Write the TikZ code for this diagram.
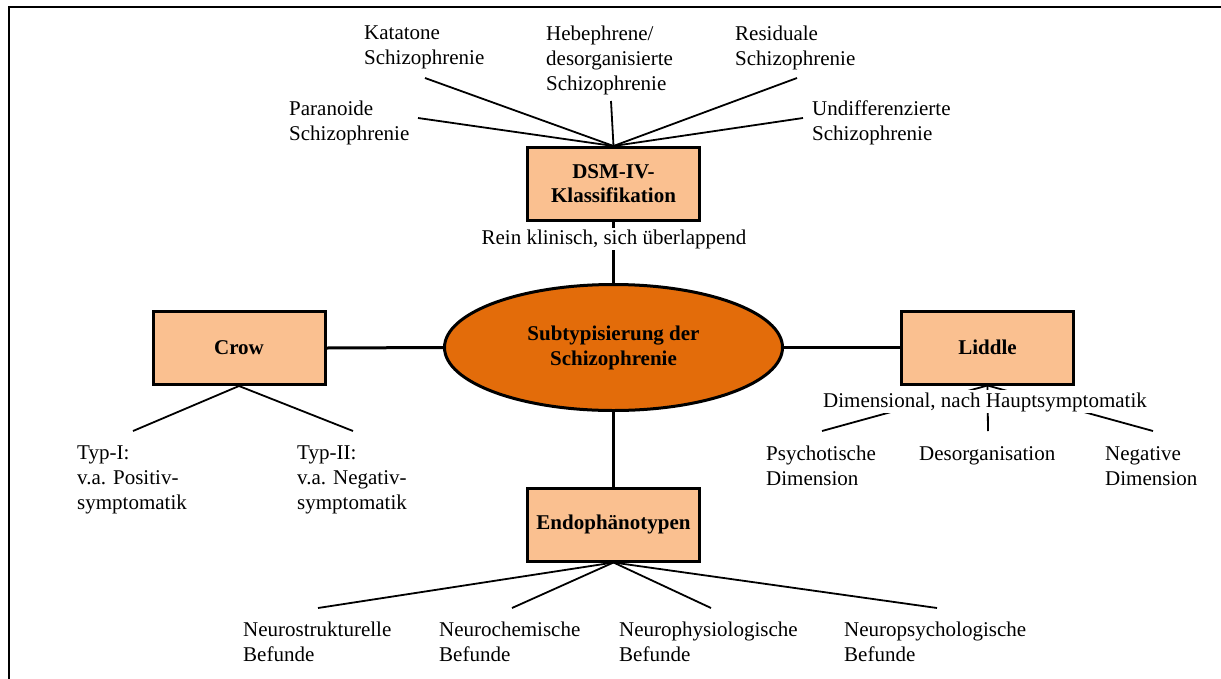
\documentclass[tikz,border=0pt]{standalone}
\usepackage{fontspec}
\setmainfont{Liberation Serif}
\usetikzlibrary{shapes.geometric,backgrounds}

\definecolor{boxfill}{RGB}{250,192,144}
\definecolor{hubfill}{RGB}{227,108,10}

\tikzset{
  catbox/.style={draw, line width=3pt, fill=boxfill, minimum width=172pt,
    minimum height=73pt, inner sep=0pt, align=center, font=\fontsize{21}{24}\selectfont\bfseries},
  hub/.style={ellipse, draw, line width=3pt, fill=hubfill, minimum width=338pt,
    minimum height=126pt, inner sep=0pt, align=center, font=\fontsize{21}{25}\selectfont\bfseries},
  leaf/.style={anchor=north west, inner sep=0pt, align=left, font=\fontsize{21}{25}\selectfont},
  note/.style={anchor=base, fill=white, inner xsep=1.5pt, inner ysep=1.5pt, font=\fontsize{21}{25}\selectfont},
  mainlink/.style={line width=3pt},
  sublink/.style={line width=1.8pt},
}

\begin{document}
\begin{tikzpicture}[x=1pt, y=-1pt]
\useasboundingbox (0,0) rectangle (1221,678);

% frame
\draw[line width=2.4pt] (9,690) -- (9,7) -- (1230,7);

% central hub and the four approaches
\node[hub] (hub) at (613.5,347.5) {Subtypisierung der\\Schizophrenie};
\node[catbox] (dsm) at (613.5,184) {DSM-IV-\\Klassifikation};
\node[catbox] (crow) at (239,348) {Crow};
\node[catbox] (liddle) at (987.5,347.5) {Liddle};
\node[catbox] (endo) at (613.5,524.5) {Endophänotypen};

% DSM-IV subtypes
\node[leaf] (par) at (289,101) {Paranoide\\Schizophrenie};
\node[leaf] (kat) at (364,26) {Katatone\\Schizophrenie};
\node[leaf] (heb) at (546,26) {Hebephrene/\\desorganisierte\\Schizophrenie};
\node[leaf] (res) at (735,26) {Residuale\\Schizophrenie};
\node[leaf] (und) at (812,101) {Undifferenzierte\\Schizophrenie};
\coordinate (par-e) at (418,118);
\coordinate (kat-e) at (425,78);
\coordinate (heb-e) at (611,101);
\coordinate (res-e) at (797,78);
\coordinate (und-e) at (803,118);

% Crow types
\node[leaf] (typ1) at (77,446) {Typ-I:\\v.a. Positiv-\\symptomatik};
\node[leaf] (typ2) at (297,446) {Typ-II:\\v.a. Negativ-\\symptomatik};
\coordinate (typ1-e) at (133,431);
\coordinate (typ2-e) at (353,431);

% Liddle dimensions
\node[leaf] (psy) at (766,446) {Psychotische\\Dimension};
\node[leaf] (des) at (919,446) {Desorganisation};
\node[leaf] (neg) at (1105,446) {Negative\\Dimension};
\coordinate (psy-e) at (822,431);
\coordinate (des-e) at (988,431);
\coordinate (neg-e) at (1153,431);

% endophenotype findings
\node[leaf] (nst) at (243,622) {Neurostrukturelle\\Befunde};
\node[leaf] (nch) at (439,622) {Neurochemische\\Befunde};
\node[leaf] (nph) at (619,622) {Neurophysiologische\\Befunde};
\node[leaf] (nps) at (844,622) {Neuropsychologische\\Befunde};
\coordinate (nst-e) at (318,608);
\coordinate (nch-e) at (512,608);
\coordinate (nph-e) at (711,608);
\coordinate (nps-e) at (937,608);

% annotations sitting on the connectors
\node[note] (dsmnote) at (614,244) {Rein klinisch, sich überlappend};
\node[note, inner ysep=1pt] (lidnote) at (985,407)
  {\rule[-5pt]{0pt}{21pt}Dimensional, nach Hauptsymptomatik};

\begin{scope}[on background layer]
  \draw[mainlink] (hub.north) -- (dsm.south);
  \draw[mainlink] (hub.south) -- (endo.north);
  \draw[mainlink] (hub.west) -- (crow.east);
  \draw[mainlink] (hub.east) -- (liddle.west);
  \foreach \e in {par-e,kat-e,heb-e,res-e,und-e}
    \draw[sublink] (dsm.north) -- (\e);
  \foreach \e in {typ1-e,typ2-e}
    \draw[sublink] (crow.south) -- (\e);
  \foreach \e in {psy-e,des-e,neg-e}
    \draw[sublink] (liddle.south) -- (\e);
  \foreach \e in {nst-e,nch-e,nph-e,nps-e}
    \draw[sublink] (endo.south) -- (\e);
\end{scope}
\end{tikzpicture}
\end{document}
